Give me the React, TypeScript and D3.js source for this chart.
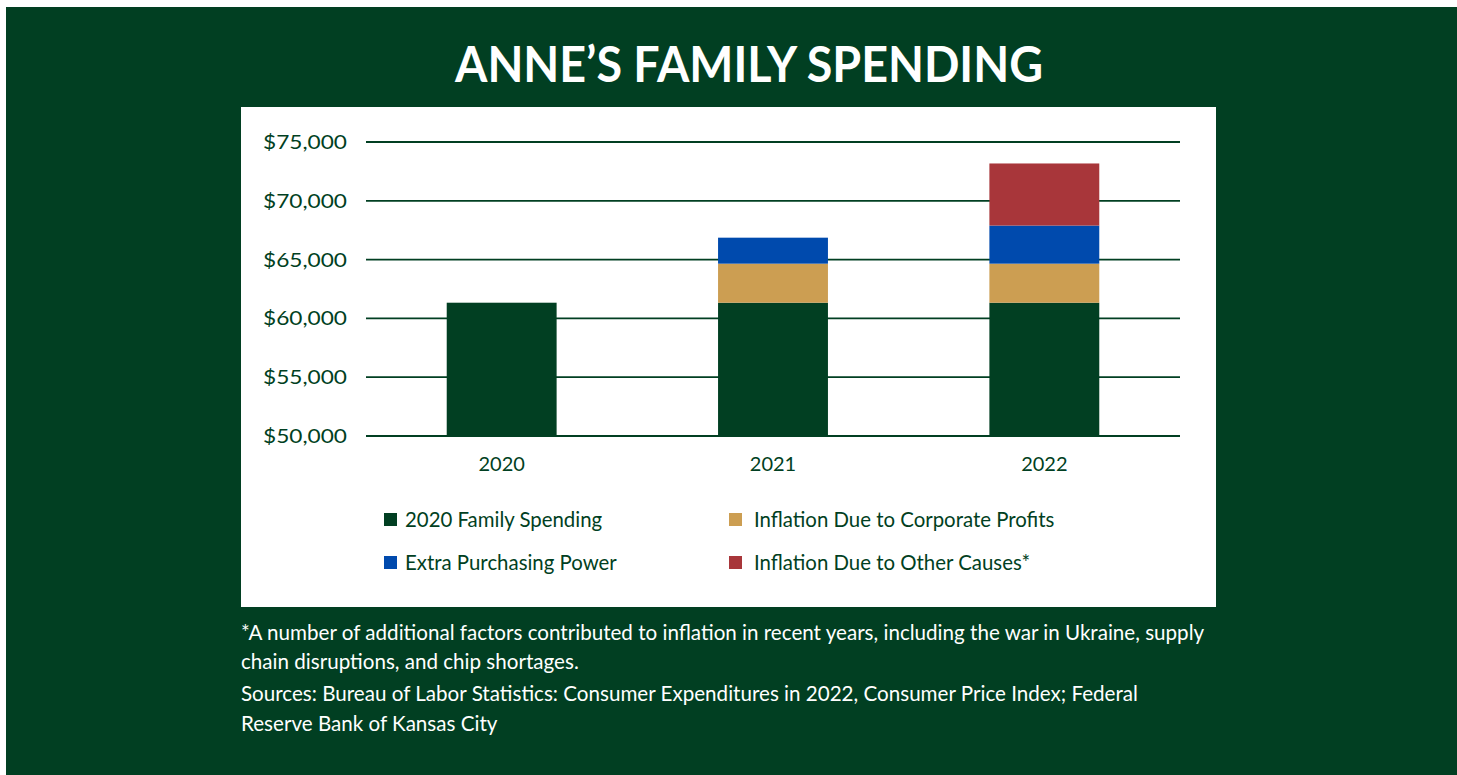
import * as d3 from 'd3'
import { FC, useEffect } from 'react'

// chart values
const categories: string[] = ['2020', '2021', '2022']
const familySpending2020: number[] = [61334, 61334, 61334]
const corporateProfits: number[] = [0, 3320, 3320]
const extraPurchasingPower: number[] = [0, 2210, 3240]
const otherCauses: number[] = [0, 0, 5280]
const yTicks: number[] = [50000, 55000, 60000, 65000, 70000, 75000]

const seriesKeys = ['spending', 'corporate', 'extra', 'other'] as const
const seriesLabels: string[] = [
    '2020 Family Spending',
    'Inflation Due to Corporate Profits',
    'Extra Purchasing Power',
    'Inflation Due to Other Causes*',
]
const seriesColors: string[] = ['#013f22', '#cc9e52', '#004aad', '#a8363a']

const footnoteLines: string[] = [
    '*A number of additional factors contributed to inflation in recent years, including the war in Ukraine, supply',
    'chain disruptions, and chip shortages.',
    'Sources: Bureau of Labor Statistics: Consumer Expenditures in 2022, Consumer Price Index; Federal',
    'Reserve Bank of Kansas City',
]

const GREEN = '#013f22'
const FONT = 'Lato, "Open Sans", sans-serif'

const App: FC = () => {
    useEffect(() => {
        document.body.style.margin = '0'
    }, [])

    const width = 1457
    const height = 775
    const plot = { left: 366, right: 1180, top: 142, bottom: 436 }

    const rows = categories.map((c, i) => ({
        category: c,
        spending: familySpending2020[i],
        corporate: corporateProfits[i],
        extra: extraPurchasingPower[i],
        other: otherCauses[i],
    }))

    const stack = d3.stack<any>().keys(seriesKeys as unknown as string[])
    const stacked = stack(rows)

    const x = d3.scaleBand()
        .domain(categories)
        .range([plot.left, plot.right])
        .paddingInner(0.595)
        .paddingOuter(0.2975)

    const y = d3.scaleLinear()
        .domain([50000, 75000])
        .range([plot.bottom, plot.top])

    const fmt = d3.format('$,')

    // the first stack layer starts at the axis floor, not at zero
    const lower = (v: number) => Math.max(v, 50000)

    return (
        <svg width={width} height={height} style={{ display: 'block' }}>
            <rect x={6} y={7} width={width - 6} height={height - 7} fill={GREEN} />
            <text
                x={749}
                y={82}
                textAnchor="middle"
                fill="#fff"
                fontFamily={FONT}
                fontWeight={700}
                fontSize={49}
                textLength={588}
                lengthAdjust="spacingAndGlyphs"
            >
                ANNE’S FAMILY SPENDING
            </text>

            <rect x={241} y={107} width={975} height={500} fill="#fff" />

            {yTicks.map(t => (
                <g key={t}>
                    <line
                        x1={plot.left}
                        x2={plot.right}
                        y1={y(t)}
                        y2={y(t)}
                        stroke={GREEN}
                        strokeWidth={t === 50000 ? 2.2 : 1.8}
                    />
                    <text
                        x={347}
                        y={y(t) + 7}
                        textAnchor="end"
                        fill={GREEN}
                        fontFamily={FONT}
                        fontSize={20}
                        textLength={84}
                        lengthAdjust="spacingAndGlyphs"
                    >
                        {fmt(t)}
                    </text>
                </g>
            ))}

            {stacked.map((layer, li) => (
                <g key={layer.key} fill={seriesColors[li]}>
                    {layer.map((d, i) =>
                        d[1] - d[0] > 0 ? (
                            <rect
                                key={categories[i]}
                                x={x(categories[i])}
                                width={x.bandwidth()}
                                y={y(d[1])}
                                height={y(lower(d[0])) - y(d[1])}
                            />
                        ) : null
                    )}
                </g>
            ))}

            {categories.map(c => (
                <text
                    key={c}
                    x={(x(c) ?? 0) + x.bandwidth() / 2}
                    y={471}
                    textAnchor="middle"
                    fill={GREEN}
                    fontFamily={FONT}
                    fontSize={20}
                >
                    {c}
                </text>
            ))}

            {seriesLabels.map((label, i) => {
                const col = i === 0 || i === 2 ? 0 : 1
                const row = i < 2 ? 0 : 1
                const lx = col === 0 ? 384 : 729
                const ly = row === 0 ? 520 : 563
                return (
                    <g key={label}>
                        <rect x={lx} y={ly - 7} width={13} height={13} fill={seriesColors[i]} />
                        <text
                            x={lx + (col === 0 ? 21 : 25)}
                            y={ly + 7}
                            fill={GREEN}
                            fontFamily={FONT}
                            fontSize={20.4}
                        >
                            {label}
                        </text>
                    </g>
                )
            })}

            {footnoteLines.map((line, i) => (
                <text
                    key={i}
                    x={241}
                    y={[640, 669, 701, 731][i]}
                    fill="#fff"
                    fontFamily={FONT}
                    fontSize={20.6}
                >
                    {line}
                </text>
            ))}
        </svg>
    )
}

export default App
